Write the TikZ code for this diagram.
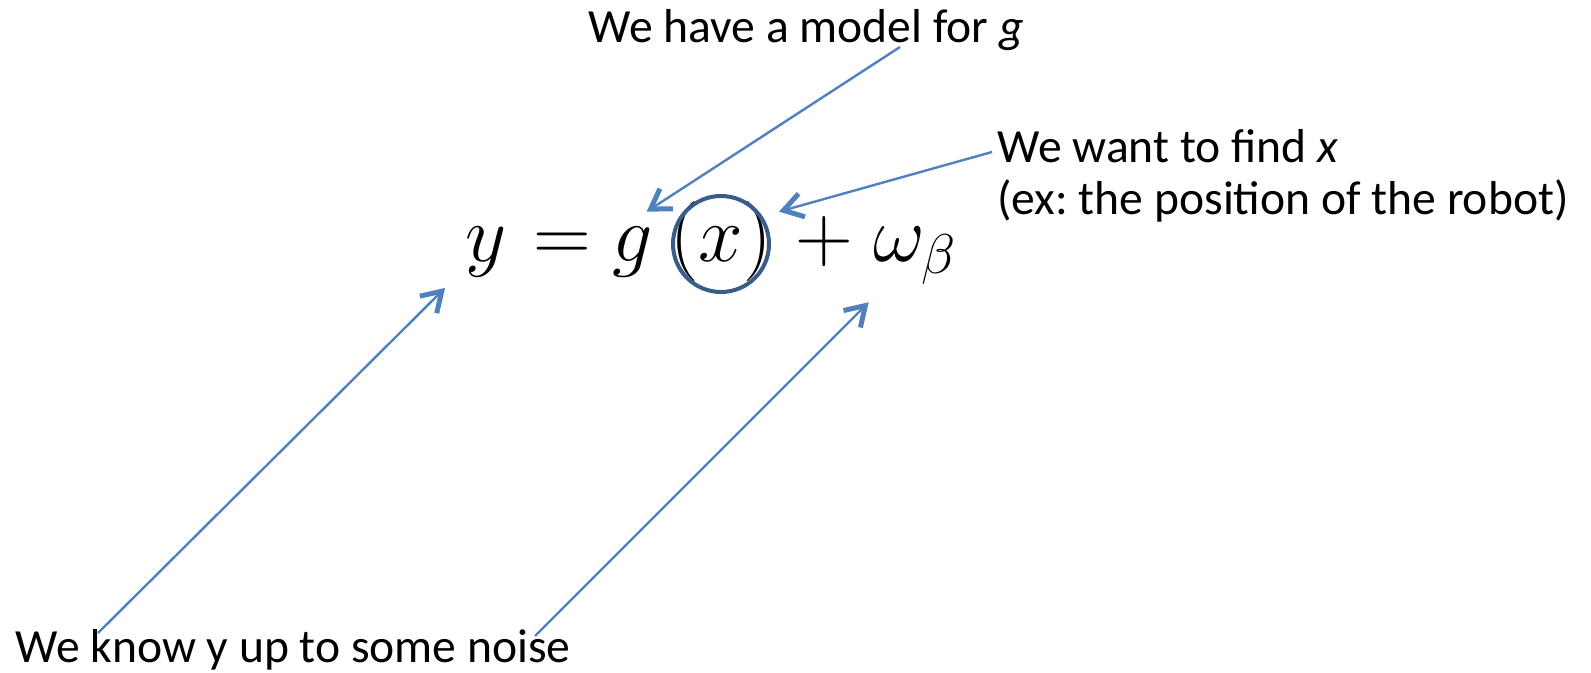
\RequirePackage{fix-cm}
\documentclass[tikz,border=0pt]{standalone}
\usepackage[no-math]{fontspec}
\setmainfont{Carlito}
\usetikzlibrary{arrows.meta}
\definecolor{callblue}{HTML}{4F81BD}
\definecolor{ringblue}{HTML}{385D8A}
\tikzset{
  pointer/.style={callblue,line width=1.2pt,
    -{Straight Barb[length=9.5pt,width=12pt,line width=2.5pt]}},
  remark/.style={inner sep=0pt,anchor=base west,
    font=\fontsize{23.8}{26}\selectfont},
  term/.style={inner sep=0pt,anchor=base,
    font=\fontsize{40}{48}\selectfont}
}
\frenchspacing
\begin{document}
\begin{tikzpicture}[x=0.5pt,y=-0.5pt]
  \useasboundingbox (0,0) rectangle (1591,673);
  % the measurement equation, piece by piece
  \node[term] (lhs) at (486,262) {$y$};
  \node[term] (eqsign) at (562,262) {$=$};
  \node[term] (gfun) at (633,262) {$g$};
  \node[term] (xvar) at (721,262) {$(x)$};
  \node[term] (plus) at (824,262) {$+$};
  \node[term] (noise) at (915,262) {$\omega_\beta$};
  \draw[ringblue,line width=2pt] (721,244) circle[radius=24pt];
  % remarks
  \node[remark] (modelg) at (588,43) {We have a model for \textit{g}};
  \node[remark] (findx) at (997,163) {We want to find \textit{x}};
  \node[remark] (findxnote) at (997,215) {(ex: the position of the robot)};
  \node[remark] (knowy) at (15,662) {We know y up to some noise};
  \coordinate (modeltail) at (900,47);
  \coordinate (findtail) at (992,152);
  \coordinate (knowtail) at (98,633);
  \coordinate (noisetail) at (535,636);
  % pointers
  \draw[pointer] (modeltail) -- ([shift={(-3.5pt,7.75pt)}]gfun.north east);
  \draw[pointer] (findtail) -- ([shift={(3.5pt,-5pt)}]xvar.north east);
  \draw[pointer] (knowtail) -- ([shift={(-10pt,-5pt)}]lhs.south west);
  \draw[pointer] (noisetail) -- ([shift={(-2pt,-8.5pt)}]noise.south west);
\end{tikzpicture}
\end{document}
